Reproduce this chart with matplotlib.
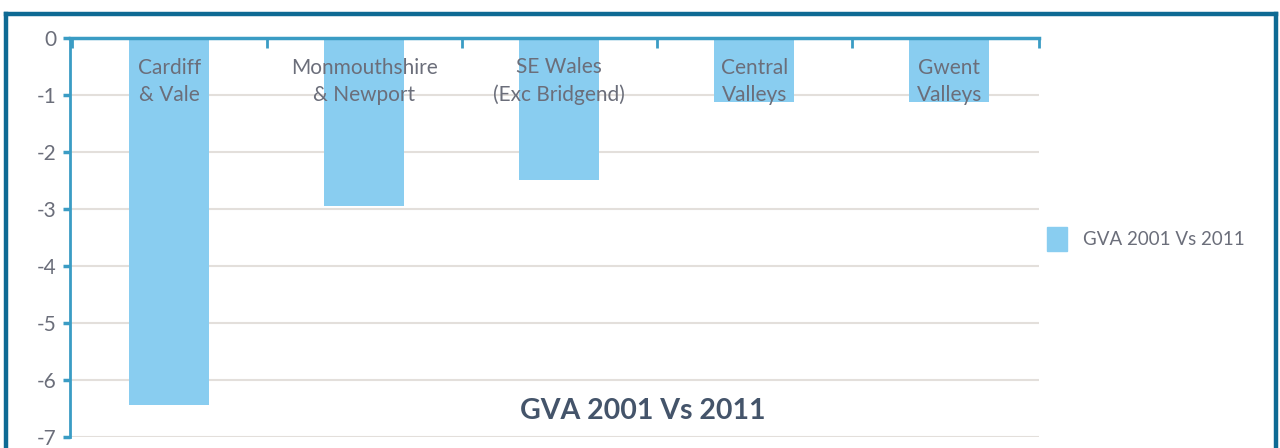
import matplotlib.pyplot as plt
from matplotlib.lines import Line2D
from matplotlib.patches import Patch

plt.rcParams['font.family'] = ['Lato', 'DejaVu Sans']

regions = ['Cardiff\n& Vale', 'Monmouthshire\n& Newport', 'SE Wales\n(Exc Bridgend)',
           'Central\nValleys', 'Gwent\nValleys']
gva_change = [-6.43, -2.95, -2.5, -1.12, -1.12]
y_ticks = [0, -1, -2, -3, -4, -5, -6, -7]

bar_col = '#89cdf0'
axis_col = '#3a9cc4'
text_col = '#6b6e7a'

fig = plt.figure(figsize=(12.8, 4.48), dpi=100)
W, H = 1280, 448

# dark blue frame round the chart (bottom runs off the picture)
frame_col = '#0e6a94'
fig.add_artist(Line2D([6 / W, 6 / W], [0, 1 - 14 / H], color=frame_col, lw=3.2,
                      transform=fig.transFigure, solid_capstyle='projecting'))
fig.add_artist(Line2D([6 / W, 1276 / W], [1 - 14 / H, 1 - 14 / H], color=frame_col, lw=3.2,
                      transform=fig.transFigure, solid_capstyle='projecting'))
fig.add_artist(Line2D([1276 / W, 1276 / W], [0, 1 - 14 / H], color=frame_col, lw=3.2,
                      transform=fig.transFigure, solid_capstyle='projecting'))

ax = fig.add_axes([70 / W, 11 / H, 969 / W, 399 / H])
x = range(len(regions))
ax.bar(x, gva_change, width=0.41, color=bar_col, zorder=2)

ax.set_xlim(-0.509, 4.46)
ax.set_ylim(-7, 0)
ax.set_yticks(y_ticks)
ax.set_yticklabels([str(v) for v in y_ticks])
ax.yaxis.grid(True, color='#e3dfdb', lw=1.5, zorder=0)
ax.set_axisbelow(True)

for s in ['right', 'bottom']:
    ax.spines[s].set_visible(False)
ax.spines['left'].set_color(axis_col)
ax.spines['left'].set_linewidth(2)
ax.spines['top'].set_color(axis_col)
ax.spines['top'].set_linewidth(2.5)
ax.spines['top'].set_zorder(3)

ax.tick_params(axis='y', colors=axis_col, width=2.5, length=5, labelsize=15,
               labelcolor=text_col, pad=5)
ax.xaxis.set_ticks_position('top')
ax.set_xticks([i - 0.5 for i in range(len(regions))] + [4.46])
ax.set_xticklabels([])
ax.tick_params(axis='x', direction='in', colors=axis_col, width=2, length=7)

for i, name in enumerate(regions):
    ax.text(i, -0.76, name, ha='center', va='center', fontsize=15, color=text_col,
            linespacing=1.45, zorder=4)

ax.text(2.43, -6.55, 'GVA 2001 Vs 2011', ha='center', va='center', fontsize=20.5,
        fontweight='bold', color='#44546a')

handle = Patch(color=bar_col, label='GVA 2001 Vs 2011')
fig.legend(handles=[handle], loc='center left', bbox_to_anchor=(1030 / W, 1 - 239 / H),
           frameon=False, fontsize=13.5, labelcolor=text_col, handlelength=1.05,
           handleheight=1.55, handletextpad=0.9)

fig.savefig('out.png', dpi=100)
